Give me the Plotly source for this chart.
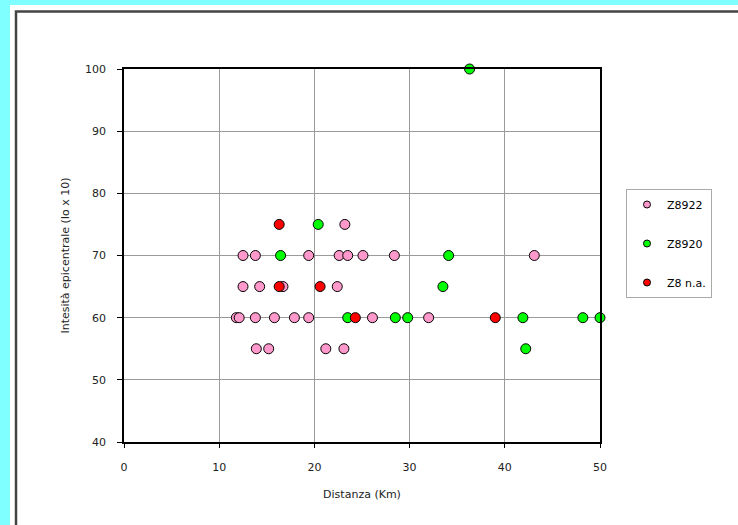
import plotly.graph_objects as go

# ---- data ----
z8922_x = [23.2, 12.5, 13.8, 19.4, 22.6, 23.5, 25.1, 28.4, 43.1,
           12.5, 14.25, 16.7, 22.4,
           11.8, 12.1, 13.8, 15.8, 17.9, 19.4, 26.1, 32.0,
           13.9, 15.2, 21.2, 23.1]
z8922_y = [75, 70, 70, 70, 70, 70, 70, 70, 70,
           65, 65, 65, 65,
           60, 60, 60, 60, 60, 60, 60, 60,
           55, 55, 55, 55]

z8920_x = [36.3, 20.4, 16.45, 34.1, 33.5, 23.5, 28.5, 29.8, 41.9, 48.2, 50.0, 42.2]
z8920_y = [100, 75, 70, 70, 65, 60, 60, 60, 60, 60, 60, 55]

z8na_x = [16.3, 16.3, 20.6, 24.3, 39.0]
z8na_y = [75, 65, 65, 60, 60]

series_names = ["Z8922", "Z8920", "Z8 n.a."]
x_ticks = [0, 10, 20, 30, 40, 50]
y_ticks = [40, 50, 60, 70, 80, 90, 100]

colors = ["#FF99CC", "#00FF00", "#FF0000"]
FONT = "DejaVu Sans, Verdana, sans-serif"

fig = go.Figure()
for i, (xs, ys) in enumerate([(z8922_x, z8922_y), (z8920_x, z8920_y), (z8na_x, z8na_y)]):
    fig.add_trace(go.Scatter(
        x=xs, y=ys, mode="markers", name=series_names[i],
        legendgroup=series_names[i], showlegend=False,
        marker=dict(size=10, color=colors[i], line=dict(color="#000000", width=1)),
        cliponaxis=False,
    ))
# legend entries (smaller symbols, as in the original key)
for i, name in enumerate(series_names):
    fig.add_trace(go.Scatter(
        x=[None], y=[None], mode="markers", name=name, legendgroup=name,
        marker=dict(size=7, color=colors[i], line=dict(color="#000000", width=1)),
    ))

# page geometry (plot area: l=124, r=600, t=69, b=442 px)
L, R, T, B = 124, 600, 69, 442
def px(xp):
    return (xp - L) / (R - L)
def py(yp):
    return (B - yp) / (B - T)

shapes = [
    dict(type="rect", xref="paper", yref="paper", x0=px(10), x1=px(760), y0=py(560), y1=py(5),
         fillcolor="white", line=dict(width=0), layer="below"),
    dict(type="rect", xref="paper", yref="paper", x0=px(16), x1=px(800), y0=py(600), y1=py(11.5),
         fillcolor="rgba(0,0,0,0)", line=dict(color="#444444", width=2.5), layer="below"),
]

fig.update_layout(
    width=738, height=525,
    margin=dict(l=L, r=738 - R, t=T, b=525 - B, pad=0),
    paper_bgcolor="#7FFFFF",
    plot_bgcolor="white",
    shapes=shapes,
    font=dict(family=FONT, size=11, color="#222222"),
    showlegend=True,
    legend=dict(
        x=px(626), y=py(189), xanchor="left", yanchor="top",
        bgcolor="white", bordercolor="#AAAAAA", borderwidth=1,
        font=dict(family=FONT, size=11, color="#000000"),
        tracegroupgap=20, itemwidth=30,
    ),
    xaxis=dict(
        range=[0, 50], tickvals=x_ticks, ticktext=[str(v) for v in x_ticks],
        showgrid=True, gridcolor="#9A9A9A", gridwidth=1,
        showline=True, linecolor="#000000", linewidth=1.5, mirror=True,
        ticks="outside", ticklen=4, tickcolor="#000000",
        ticklabelstandoff=10, zeroline=False,
        title=dict(text="Distanza (Km)", font=dict(family=FONT, size=11, color="#222222"), standoff=17),
    ),
    yaxis=dict(
        range=[40, 100], tickvals=y_ticks, ticktext=[str(v) for v in y_ticks],
        showgrid=True, gridcolor="#9A9A9A", gridwidth=1,
        showline=True, linecolor="#000000", linewidth=1.5, mirror=True,
        ticks="outside", ticklen=5, tickcolor="#000000",
        ticklabelstandoff=9, zeroline=False,
        title=dict(text="Intesità epicentrale (Io x 10)", font=dict(family=FONT, size=11, color="#222222"), standoff=13),
    ),
)

fig.write_html("out.html", config={"displayModeBar": False},
               post_script="document.body.style.margin='0';")
